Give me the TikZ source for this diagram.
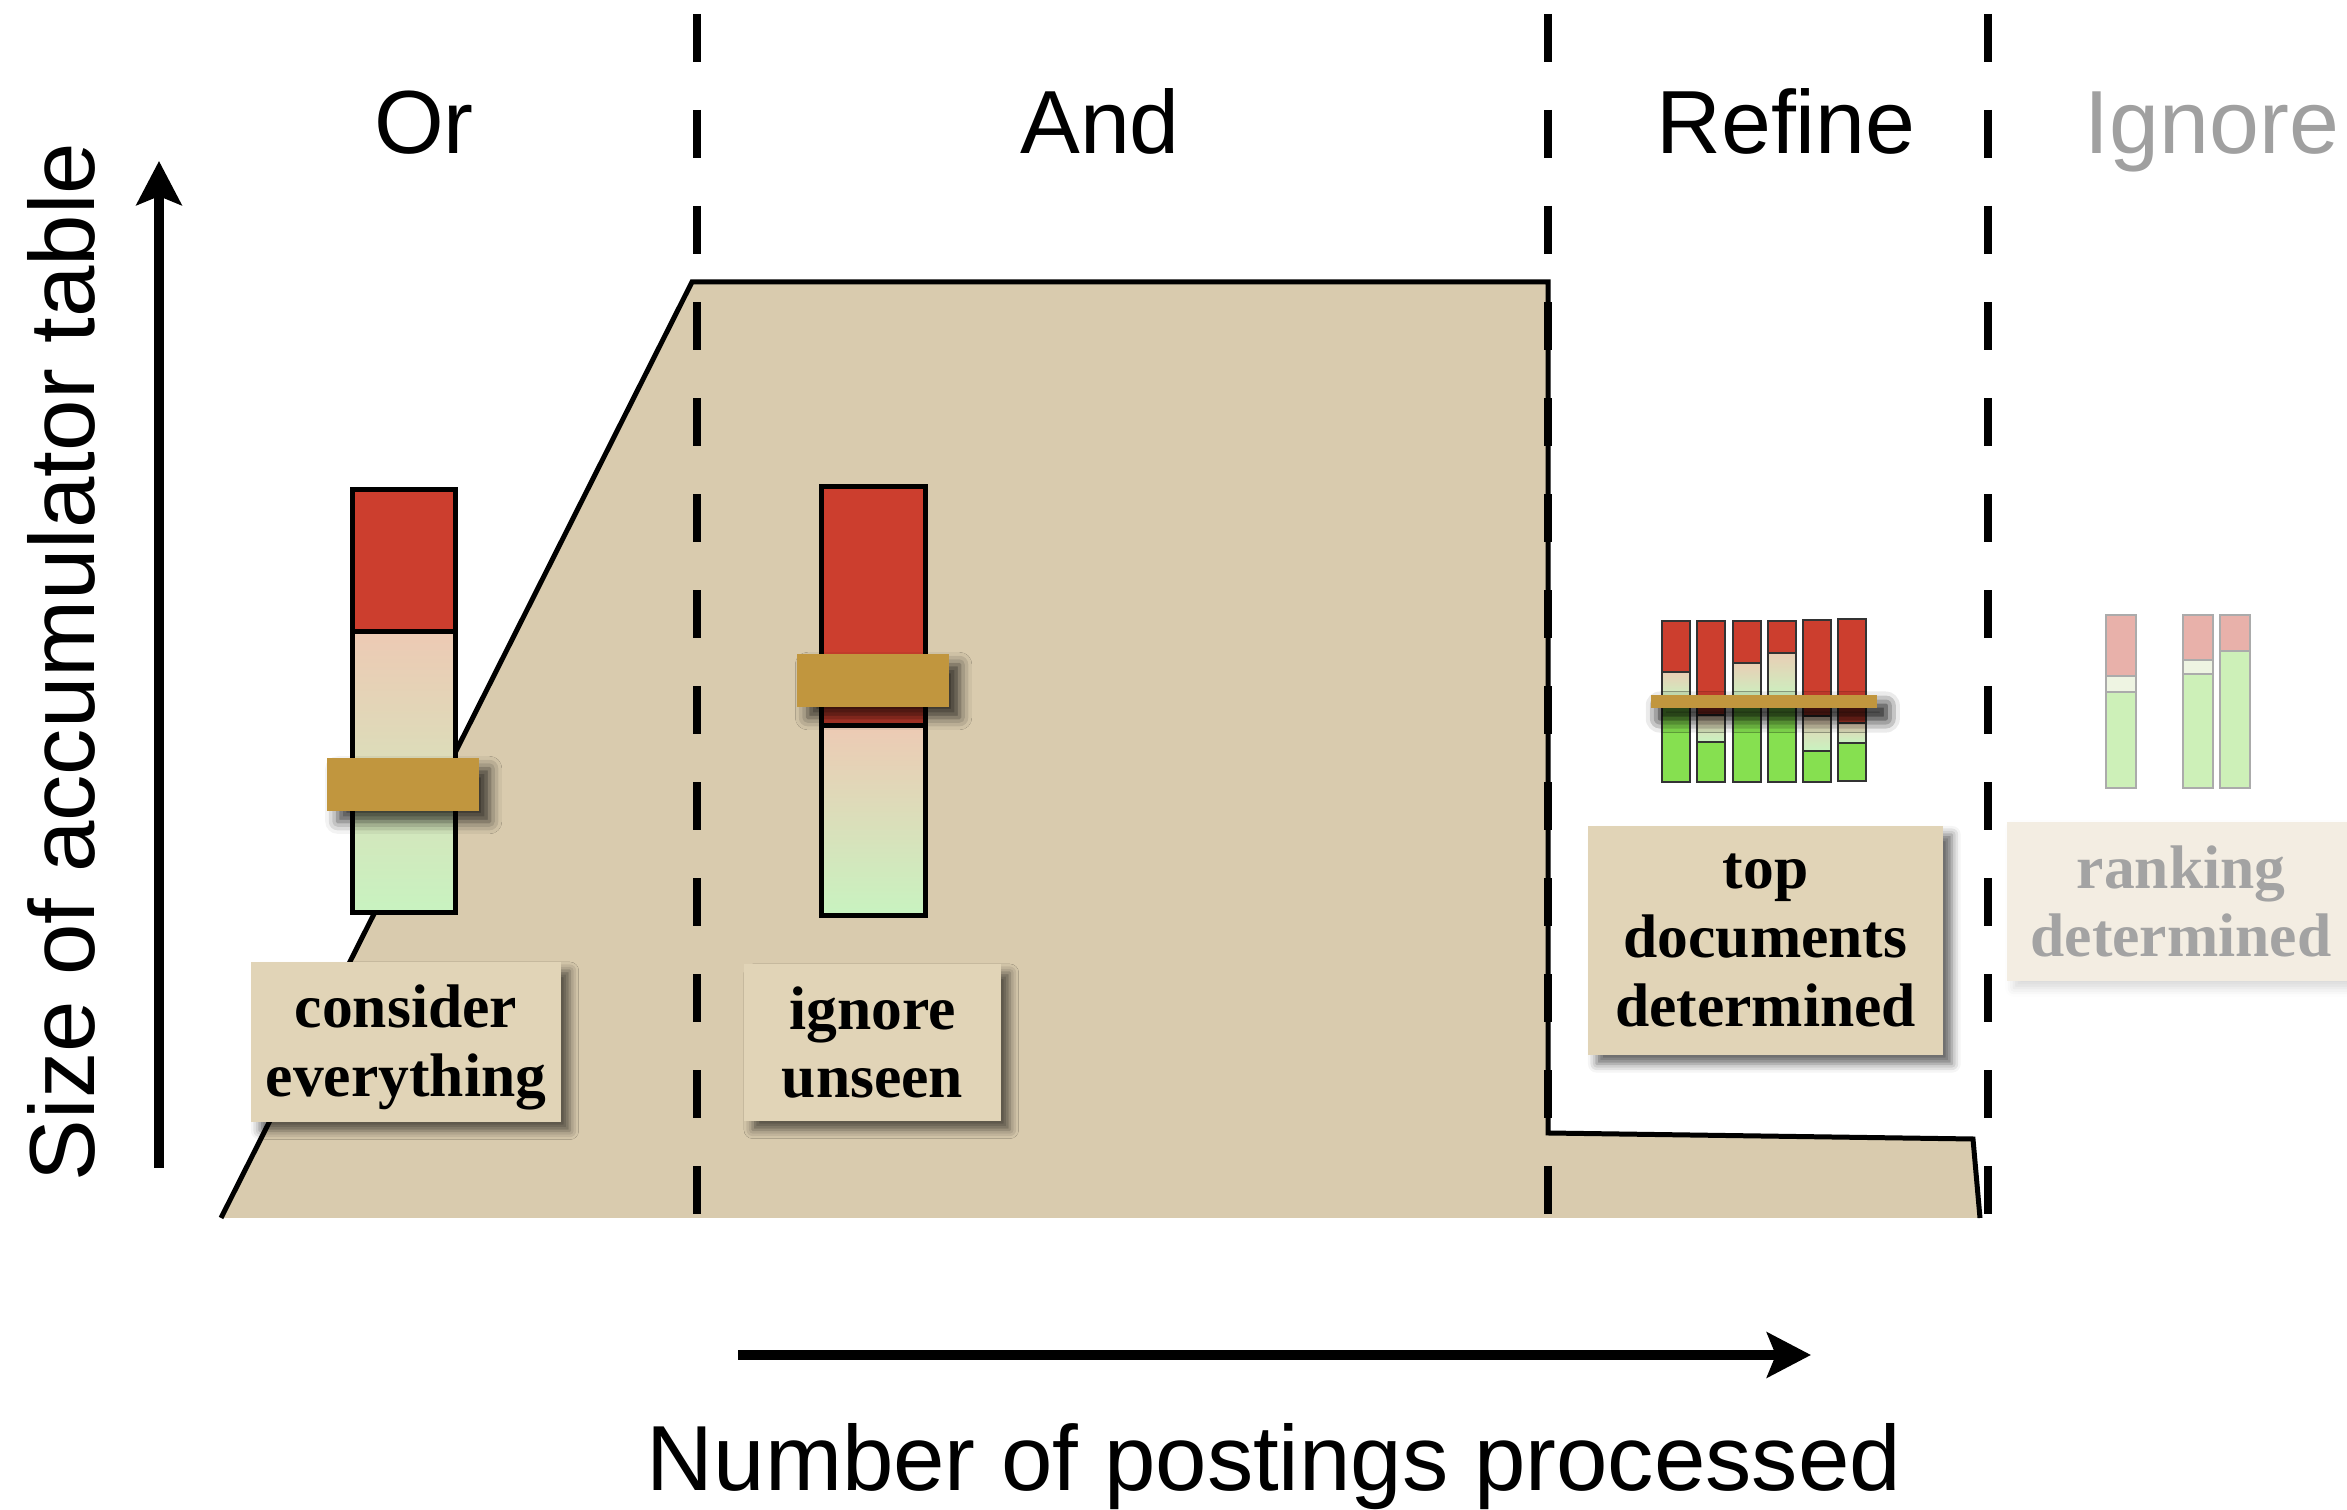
\documentclass[tikz,border=0pt]{standalone}
\usepackage{fontspec}
\setmainfont{Liberation Serif}
\newfontfamily\hsans{Liberation Sans}
\usetikzlibrary{arrows.meta,shadows.blur}

\definecolor{tanfill}{HTML}{D9CBAE}
\definecolor{lblfill}{HTML}{E1D4B7}
\definecolor{fadefill}{HTML}{F3EDE2}
\definecolor{bandc}{HTML}{C1963E}
\definecolor{redc}{HTML}{CC3E2E}
\definecolor{peach}{HTML}{EDCAB4}
\definecolor{lgreen}{HTML}{C8F3C0}
\definecolor{gc}{HTML}{86E050}
\definecolor{fpink}{HTML}{E8B1AA}
\definecolor{fpale}{HTML}{EEF4E2}
\definecolor{fgreen}{HTML}{CDF0B8}
\definecolor{fgray}{HTML}{A3A3A3}
\definecolor{titlegray}{HTML}{A0A0A0}

\newcommand\bigbarx[5]{%
  \fill[redc] (#1,#3) rectangle (#2,#4);
  \shade[top color=peach, bottom color=lgreen] (#1,#4) rectangle (#2,#5);
  \draw[line width=1.42pt] (#1,#3) rectangle (#2,#5) (#1,#4) -- (#2,#4);
}

\begin{document}
\begin{tikzpicture}[x=0.01cm,y=-0.01cm,
  phase/.style={line width=2.5pt, dash pattern=on 13.65pt off 13.65pt},
  axisarrow/.style={line width=2.85pt, -{Stealth[length=12.5pt,width=12.8pt,inset=2.5pt]}},
  titletext/.style={font=\hsans\fontsize{25.5}{30}\selectfont, anchor=base},
  axlabel/.style={font=\hsans\fontsize{26.3}{30}\selectfont, anchor=base},
  lbl/.style={fill=lblfill, align=center, inner sep=0pt,
    font=\fontsize{17.5}{19.5}\selectfont\bfseries,
    blur shadow={shadow xshift=2.5pt, shadow yshift=-2.5pt, shadow blur radius=2.5pt, shadow opacity=60}},
  fadelbl/.style={fill=fadefill, align=center, inner sep=0pt, text=fgray,
    font=\fontsize{17.5}{19.5}\selectfont\bfseries,
    blur shadow={shadow xshift=2pt, shadow yshift=-2pt, shadow blur radius=2.5pt, shadow opacity=15}},
  bandst/.style={fill=bandc,
    blur shadow={shadow xshift=3pt, shadow yshift=-3pt, shadow blur radius=3.5pt, shadow opacity=75}},
]
\useasboundingbox (0,0) rectangle (2347,1510);

% accumulator size area
\fill[tanfill] (221,1218) -- (692,282) -- (1548,282) -- (1548,1133) -- (1973,1139) -- (1980,1218) -- cycle;
\draw[line width=1.42pt, line join=miter] (221,1218) -- (692,282) -- (1548,282) -- (1548,1133) -- (1973,1139) -- (1980,1218);

% phase separators
\coordinate (d1t) at (697,14);  \coordinate (d1b) at (697,1218);
\coordinate (d2t) at (1548,14); \coordinate (d2b) at (1548,1218);
\coordinate (d3t) at (1988,14); \coordinate (d3b) at (1988,1218);
\draw[phase] (d1t) -- (d1b);
\draw[phase] (d2t) -- (d2b);
\draw[phase] (d3t) -- (d3b);

% titles
\node[titletext] (tor) at (424,154) {Or};
\node[titletext] (tand) at (1100,154) {And};
\node[titletext] (tref) at (1786,154) {Refine};
\node[titletext, text=titlegray] (tign) at (2212,154) {Ignore};

% axes
\coordinate (yb) at (159,1168); \coordinate (yt) at (159,161);
\draw[axisarrow] (yb) -- (yt);
\coordinate (xl) at (738,1355); \coordinate (xr) at (1811,1355);
\draw[axisarrow] (xl) -- (xr);
\node[axlabel, rotate=90] (ylab) at (94,662) {Size of accumulator table};
\node[axlabel] (xlab) at (1274,1491) {Number of postings processed};

% Or bar
\bigbarx{352.5}{455.5}{489.5}{632}{912.5}
\path[bandst] (327,758) rectangle (479,811);
% And bar
\bigbarx{821.5}{925.5}{486.5}{726}{915.5}
\path[bandst] (797,654) rectangle (949,707);

% Refine bars
\foreach \xa/\xb/\ta/\sa/\sb/\bb in {1662/1690/621/672/700/782, 1697/1725/621/715/742/782,
  1733/1761/621/663/700/782, 1768/1796/621/653/700/782, 1803/1831/620/716/751/782,
  1838/1866/619/723/743/781}{
  \fill[redc] (\xa,\ta) rectangle (\xb,\sa);
  \shade[top color=peach!90!lgreen, bottom color=lgreen] (\xa,\sa) rectangle (\xb,\sb);
  \fill[gc] (\xa,\sb) rectangle (\xb,\bb);
  \draw[line width=0.55pt, black!80] (\xa,\ta) rectangle (\xb,\bb) (\xa,\sa) -- (\xb,\sa) (\xa,\sb) -- (\xb,\sb);
}
\path[bandst, blur shadow={shadow xshift=2.5pt, shadow yshift=-3pt, shadow blur radius=4pt, shadow opacity=65}] (1651,695) rectangle (1877,708);

% Ignore bars
\foreach \xa/\xb/\ta/\sa/\sb/\bb in {2106/2136/615/676/692/788, 2183/2213/615/660/674/788,
  2220/2250/615/651/651/788}{
  \fill[fpink] (\xa,\ta) rectangle (\xb,\sa);
  \fill[fpale] (\xa,\sa) rectangle (\xb,\sb);
  \fill[fgreen] (\xa,\sb) rectangle (\xb,\bb);
  \draw[line width=0.6pt, black!33] (\xa,\ta) rectangle (\xb,\bb) (\xa,\sa) -- (\xb,\sa) (\xa,\sb) -- (\xb,\sb);
}

% labels
\node[lbl, minimum width=3.10cm, minimum height=1.60cm] (lor) at (406,1042) {\rule{0pt}{15.3pt}consider\\everything};
\node[lbl, minimum width=2.57cm, minimum height=1.57cm] (land) at (872.5,1042.5) {ignore\\unseen};
\node[lbl, minimum width=3.55cm, minimum height=2.29cm] (lref) at (1765.5,940.5) {top\\documents\\determined};
\node[fadelbl, minimum width=3.48cm, minimum height=1.59cm] (lign) at (2181,901.5) {ranking\\determined};
\end{tikzpicture}
\end{document}
